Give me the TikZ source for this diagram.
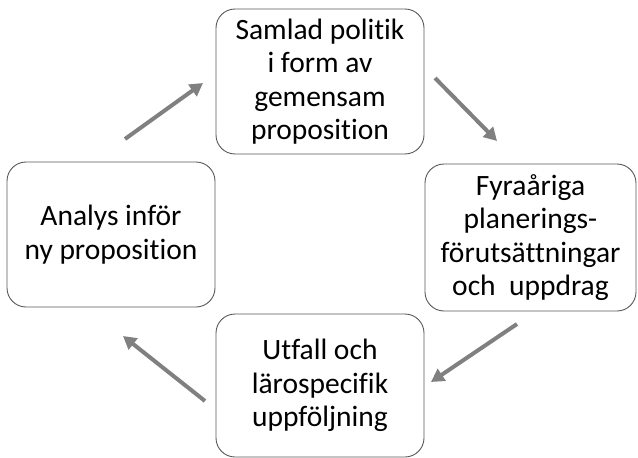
\documentclass[tikz,border=0pt]{standalone}
\usepackage{fontspec}
\setmainfont{Carlito}[Ligatures={NoCommon}]
\usetikzlibrary{arrows.meta}
\definecolor{boxline}{HTML}{595959}
\definecolor{arrowgray}{HTML}{808080}
\tikzset{
  stagebox/.style={draw=boxline, line width=0.9pt, fill=white, rounded corners=19pt,
    inner sep=0pt, align=center, font=\fontsize{29.5}{33.5}\selectfont},
  cyclearrow/.style={draw=arrowgray, line width=4pt,
    -{Triangle[length=13pt,width=14pt]}}
}
\begin{document}
\begin{tikzpicture}[x=1pt,y=-1pt]
\useasboundingbox (0,0) rectangle (638,458);
\node[stagebox, minimum width=208pt, minimum height=145pt] (top) at (320,81.5)
  {Samlad politik\\i form av\\gemensam\\proposition};
\node[stagebox, minimum width=211pt, minimum height=147pt] (right) at (530.5,237.5)
  {Fyraåriga\\planerings-\\förutsättningar\\och\ \ uppdrag};
\node[stagebox, minimum width=208pt, minimum height=143pt] (bottom) at (320,385.5)
  {Utfall och\\lärospecifik\\uppföljning};
\node[stagebox, minimum width=208pt, minimum height=145pt] (left) at (111,234.5)
  {Analys inför\\ny proposition};
\coordinate (a1s) at (125,139);
\coordinate (a1e) at (203,83);
\coordinate (a2s) at (435,78);
\coordinate (a2e) at (497,141);
\coordinate (a3s) at (517,324);
\coordinate (a3e) at (431,382);
\coordinate (a4s) at (205,401);
\coordinate (a4e) at (123,336);
\draw[cyclearrow] (a1s) -- (a1e);
\draw[cyclearrow] (a2s) -- (a2e);
\draw[cyclearrow] (a3s) -- (a3e);
\draw[cyclearrow] (a4s) -- (a4e);
\end{tikzpicture}
\end{document}
